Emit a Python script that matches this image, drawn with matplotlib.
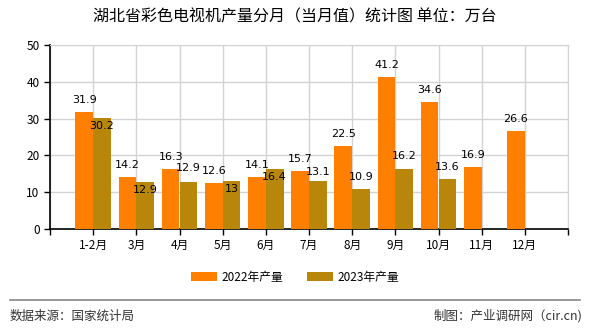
import numpy as np
import matplotlib.pyplot as plt

plt.rcParams['font.family'] = ['Noto Sans CJK SC', 'DejaVu Sans']

# data
months = ["1-2月", "3月", "4月", "5月", "6月", "7月", "8月", "9月", "10月", "11月", "12月"]
prod_2022 = [31.9, 14.2, 16.3, 12.6, 14.1, 15.7, 22.5, 41.2, 34.6, 16.9, 26.6]
prod_2023 = [30.2, 12.9, 12.9, 13, 16.4, 13.1, 10.9, 16.2, 13.6]
yticks = [0, 10, 20, 30, 40, 50]

# label offsets (pixels) for the 2023 labels, above/below bar top
off_2023 = [-8, -8, 14, -8, -8, 9, 12, 13, 12]

fig = plt.figure(figsize=(5.9, 3.3), dpi=100)
ax = fig.add_axes([50/590, 1-229/330, 518/590, 184/330])

x = np.arange(len(months))
x23 = np.arange(len(prod_2023))
w = 0.41
ax.bar(x - w/2, prod_2022, w, color="#ff8000", label="2022年产量", zorder=3)
ax.bar(x23 + w/2, prod_2023, w, color="#b8860b", label="2023年产量", zorder=3)

for i, v in enumerate(prod_2022):
    ax.annotate(str(v), (i - w/2, v), xytext=(0, 12), textcoords="offset pixels",
                ha="center", va="center", fontsize=8, family="DejaVu Sans", zorder=4)
for i, v in enumerate(prod_2023):
    ax.annotate(str(v), (i + w/2, v), xytext=(0, off_2023[i]), textcoords="offset pixels",
                ha="center", va="center", fontsize=8, family="DejaVu Sans", zorder=4)

ax.set_xlim(-1, len(months))
ax.set_ylim(0, 50)
ax.set_xticks(np.arange(-1, len(months) + 1))
ax.set_xticklabels([""] + months + [""], fontsize=8.5)
ax.set_yticks(yticks)
ax.set_yticklabels([str(t) for t in yticks], fontsize=8.5)
ax.tick_params(length=4, width=1, color="black")

ax.grid(True, color="#d3d3d3", linewidth=1, zorder=0)
ax.set_axisbelow(True)
for s in ["top", "right"]:
    ax.spines[s].set_color("#d3d3d3")
for s in ["left", "bottom"]:
    ax.spines[s].set_color("black")
    ax.spines[s].set_linewidth(1.2)

fig.text(0.5, 1 - 17/330, "湖北省彩色电视机产量分月（当月值）统计图 单位：万台",
         ha="center", va="center", fontsize=11.5)

fig.legend(loc="center", bbox_to_anchor=(0.5, 1 - 277/330), ncol=2, frameon=False,
           fontsize=8.5, handlelength=2.2, handleheight=0.8, columnspacing=2.0,
           handletextpad=0.4)

fig.add_artist(plt.Line2D([10/590, 580/590], [1 - 300/330, 1 - 300/330],
                          color="#888888", linewidth=1.2))
fig.text(10/590, 1 - 316/330, "数据来源：国家统计局", ha="left", va="center",
         fontsize=9, color="#333333")
fig.text(582/590, 1 - 316/330, "制图：产业调研网（cir.cn)", ha="right", va="center",
         fontsize=9, color="#333333")

plt.savefig("out.png", dpi=100)
